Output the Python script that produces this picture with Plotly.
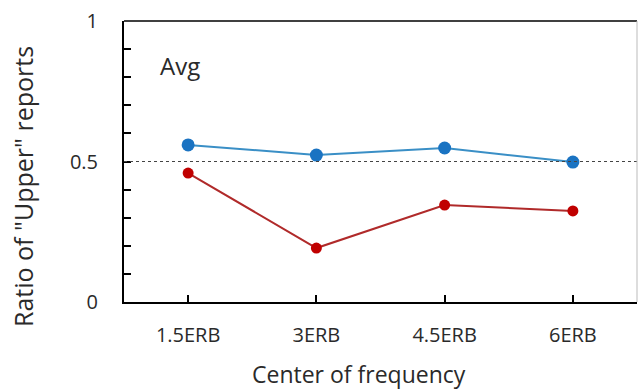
import plotly.graph_objects as go

categories = ["1.5ERB", "3ERB", "4.5ERB", "6ERB"]
blue_vals = [0.559, 0.523, 0.548, 0.498]
red_vals = [0.459, 0.192, 0.345, 0.324]
y_tick_vals = [0, 0.1, 0.2, 0.3, 0.4, 0.5, 0.6, 0.7, 0.8, 0.9, 1.0]
y_tick_text = ["0", "", "", "", "", "0.5", "", "", "", "", "1"]

xpos = list(range(len(categories)))
FONT = "Open Sans"
TXT = "#2a2a2a"

fig = go.Figure()
fig.add_trace(go.Scatter(
    x=xpos, y=blue_vals, mode="lines+markers",
    line=dict(color="#3a8fc6", width=2),
    marker=dict(color="#1a73c2", size=13),
    showlegend=False))
fig.add_trace(go.Scatter(
    x=xpos, y=red_vals, mode="lines+markers",
    line=dict(color="#b02a2a", width=2),
    marker=dict(color="#c00000", size=11),
    showlegend=False))

fig.add_shape(type="line", xref="paper", yref="y", x0=0, x1=1, y0=0.5, y1=0.5,
              line=dict(color="#444444", width=1, dash="3px,3px"))
fig.add_shape(type="line", xref="paper", yref="paper", x0=0, x1=1, y0=1, y1=1,
              line=dict(color="black", width=1.5))
fig.add_shape(type="line", xref="paper", yref="paper", x0=1, x1=1, y0=0, y1=1,
              line=dict(color="#bbbbbb", width=1))

fig.add_annotation(text="Avg", xref="paper", yref="paper", x=0.066, y=0.84,
                   xanchor="left", yanchor="middle", showarrow=False,
                   font=dict(family=FONT, size=24, color=TXT))
fig.add_annotation(text="Center of frequency", xref="paper", yref="paper",
                   x=(359 - 124) / 513, y=-(374 - 302) / 281,
                   xanchor="center", yanchor="middle", showarrow=False,
                   font=dict(family=FONT, size=23, color=TXT))
fig.add_annotation(text='Ratio of "Upper" reports', xref="paper", yref="paper",
                   x=(23 - 124) / 513, y=(302 - 187) / 281, textangle=-90,
                   xanchor="center", yanchor="middle", showarrow=False,
                   font=dict(family=FONT, size=25, color=TXT))

fig.update_layout(
    width=638, height=392,
    margin=dict(l=124, r=1, t=21, b=90, autoexpand=False),
    paper_bgcolor="white", plot_bgcolor="white",
    font=dict(family=FONT, color=TXT),
    xaxis=dict(range=[-0.5, 3.5], tickvals=xpos + [3.5], ticktext=categories + [""],
               ticks="inside", ticklen=7, tickwidth=1.5, tickcolor="black",
               showline=True, linecolor="black", linewidth=2,
               showgrid=False, zeroline=False, automargin=False,
               ticklabelstandoff=14,
               tickfont=dict(size=20, color=TXT)),
    yaxis=dict(range=[0, 1], tickvals=y_tick_vals, ticktext=y_tick_text,
               ticks="inside", ticklen=7, tickwidth=1.5, tickcolor="black",
               showline=True, linecolor="black", linewidth=2,
               showgrid=False, zeroline=False, automargin=False,
               ticklabelstandoff=20,
               tickfont=dict(size=20, color=TXT)),
)

fig.write_html("out.html", config={"displayModeBar": False},
               post_script="document.body.style.margin='0';document.body.style.overflow='hidden';")
